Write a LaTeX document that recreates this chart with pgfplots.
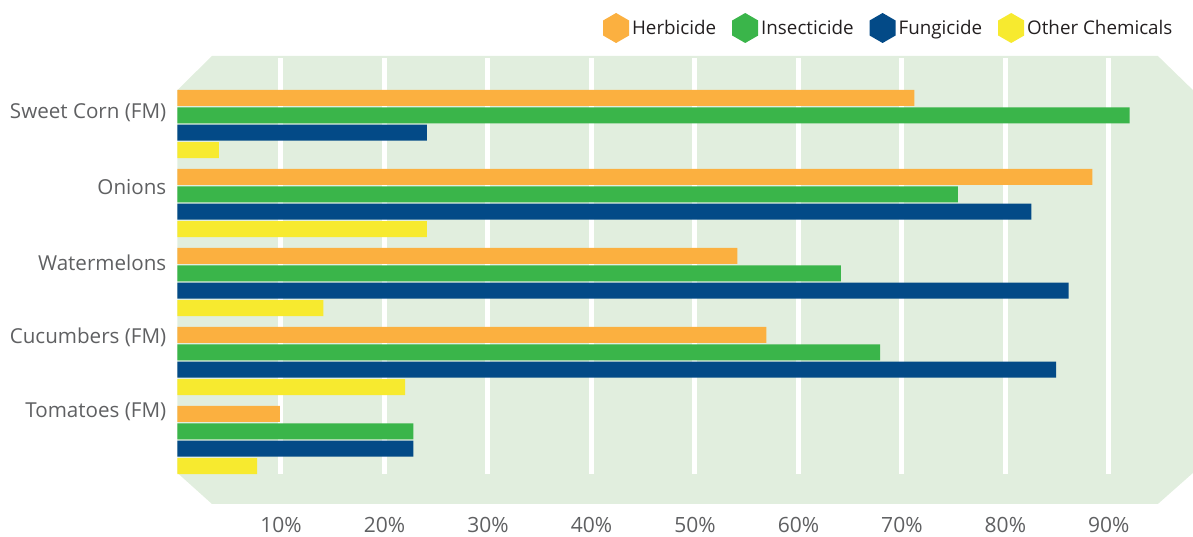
\documentclass[border=0pt]{standalone}
\usepackage{pgfplots}
\pgfplotsset{compat=1.18}
\usepackage{fontspec}
\setmainfont{Open Sans}
\definecolor{cHerb}{HTML}{FBB040}
\definecolor{cIns}{HTML}{3AB54A}
\definecolor{cFun}{HTML}{034A87}
\definecolor{cOth}{HTML}{F7EA2F}
\definecolor{cBg}{HTML}{E1EEDE}
\definecolor{cLab}{HTML}{5F6062}
\definecolor{cLeg}{HTML}{231F20}
\pgfplotsset{
  hexleg/.style={legend image code/.code={%
    \fill[##1,draw=none] (0pt,15pt) -- (13pt,7.5pt) -- (13pt,-7.5pt) -- (0pt,-15pt) -- (-13pt,-7.5pt) -- (-13pt,7.5pt) -- cycle;}}
}
\begin{document}
\begin{tikzpicture}
\begin{axis}[
  name=ax,
  scale only axis,
  width=1015.5pt, height=448pt,
  xmin=0, xmax=98.12,
  ymin=-0.861, ymax=4.810,
  y dir=reverse,
  clip=false,
  xbar,
  bar width=0.2025,
  axis line style={draw=none},
  major tick length=0pt,
  xtick={10,20,30,40,50,60,70,80,90},
  xticklabels={10\%,20\%,30\%,40\%,50\%,60\%,70\%,80\%,90\%},
  ytick={-0.139,0.797,1.759,2.696,3.646},
  yticklabels={Sweet Corn (FM),Onions,Watermelons,Cucumbers (FM),Tomatoes (FM)},
  xticklabel style={font=\fontsize{21}{25}\selectfont, text=cLab, inner sep=0pt, anchor=north, yshift=-13pt},
  yticklabel style={font=\fontsize{20.6}{25}\selectfont, text=cLab, inner sep=0pt, anchor=east, xshift=-11pt},
  legend columns=4,
  legend style={draw=none, fill=none, inner sep=0pt, at={(axis description cs:0.982,1.0625)}, anchor=east,
    font=\fontsize{18.8}{23}\selectfont, text=cLeg,
    nodes={inner xsep=2pt, inner ysep=2pt},
    /tikz/every odd column/.append style={column sep=1pt},
    /tikz/every even column/.append style={column sep=14pt}},
  legend cell align=left,
]
\fill[cBg] (axis cs:0,-0.430) -- (axis cs:3.33,-0.861) -- (axis cs:94.74,-0.861) -- (axis cs:98.12,-0.430)
  -- (axis cs:98.12,4.418) -- (axis cs:94.74,4.810) -- (axis cs:3.33,4.810) -- (axis cs:0,4.418) -- cycle;
\pgfplotsinvokeforeach{10,20,30,40,50,60,70,80,90}{
  \draw[white, line width=5pt] (axis cs:#1,-0.835) -- (axis cs:#1,4.43);
}
\addplot[hexleg, fill=cHerb, draw=none, bar shift=-0.330] coordinates {(71.2,0) (88.4,1) (54.1,2) (56.9,3) (9.9,4)};
\addplot[hexleg, fill=cIns, draw=none, bar shift=-0.110] coordinates {(92.0,0) (75.4,1) (64.1,2) (67.9,3) (22.8,4)};
\addplot[hexleg, fill=cFun, draw=none, bar shift=0.110] coordinates {(24.1,0) (82.5,1) (86.1,2) (84.9,3) (22.8,4)};
\addplot[hexleg, fill=cOth, draw=none, bar shift=0.330] coordinates {(4.0,0) (24.1,1) (14.1,2) (22.0,3) (7.7,4)};
\legend{Herbicide,Insecticide,Fungicide,Other Chemicals}
\end{axis}
\path[use as bounding box] ([xshift=-177.5pt,yshift=-33pt]ax.south west) rectangle ([yshift=56pt]ax.north east);
\end{tikzpicture}
\end{document}
